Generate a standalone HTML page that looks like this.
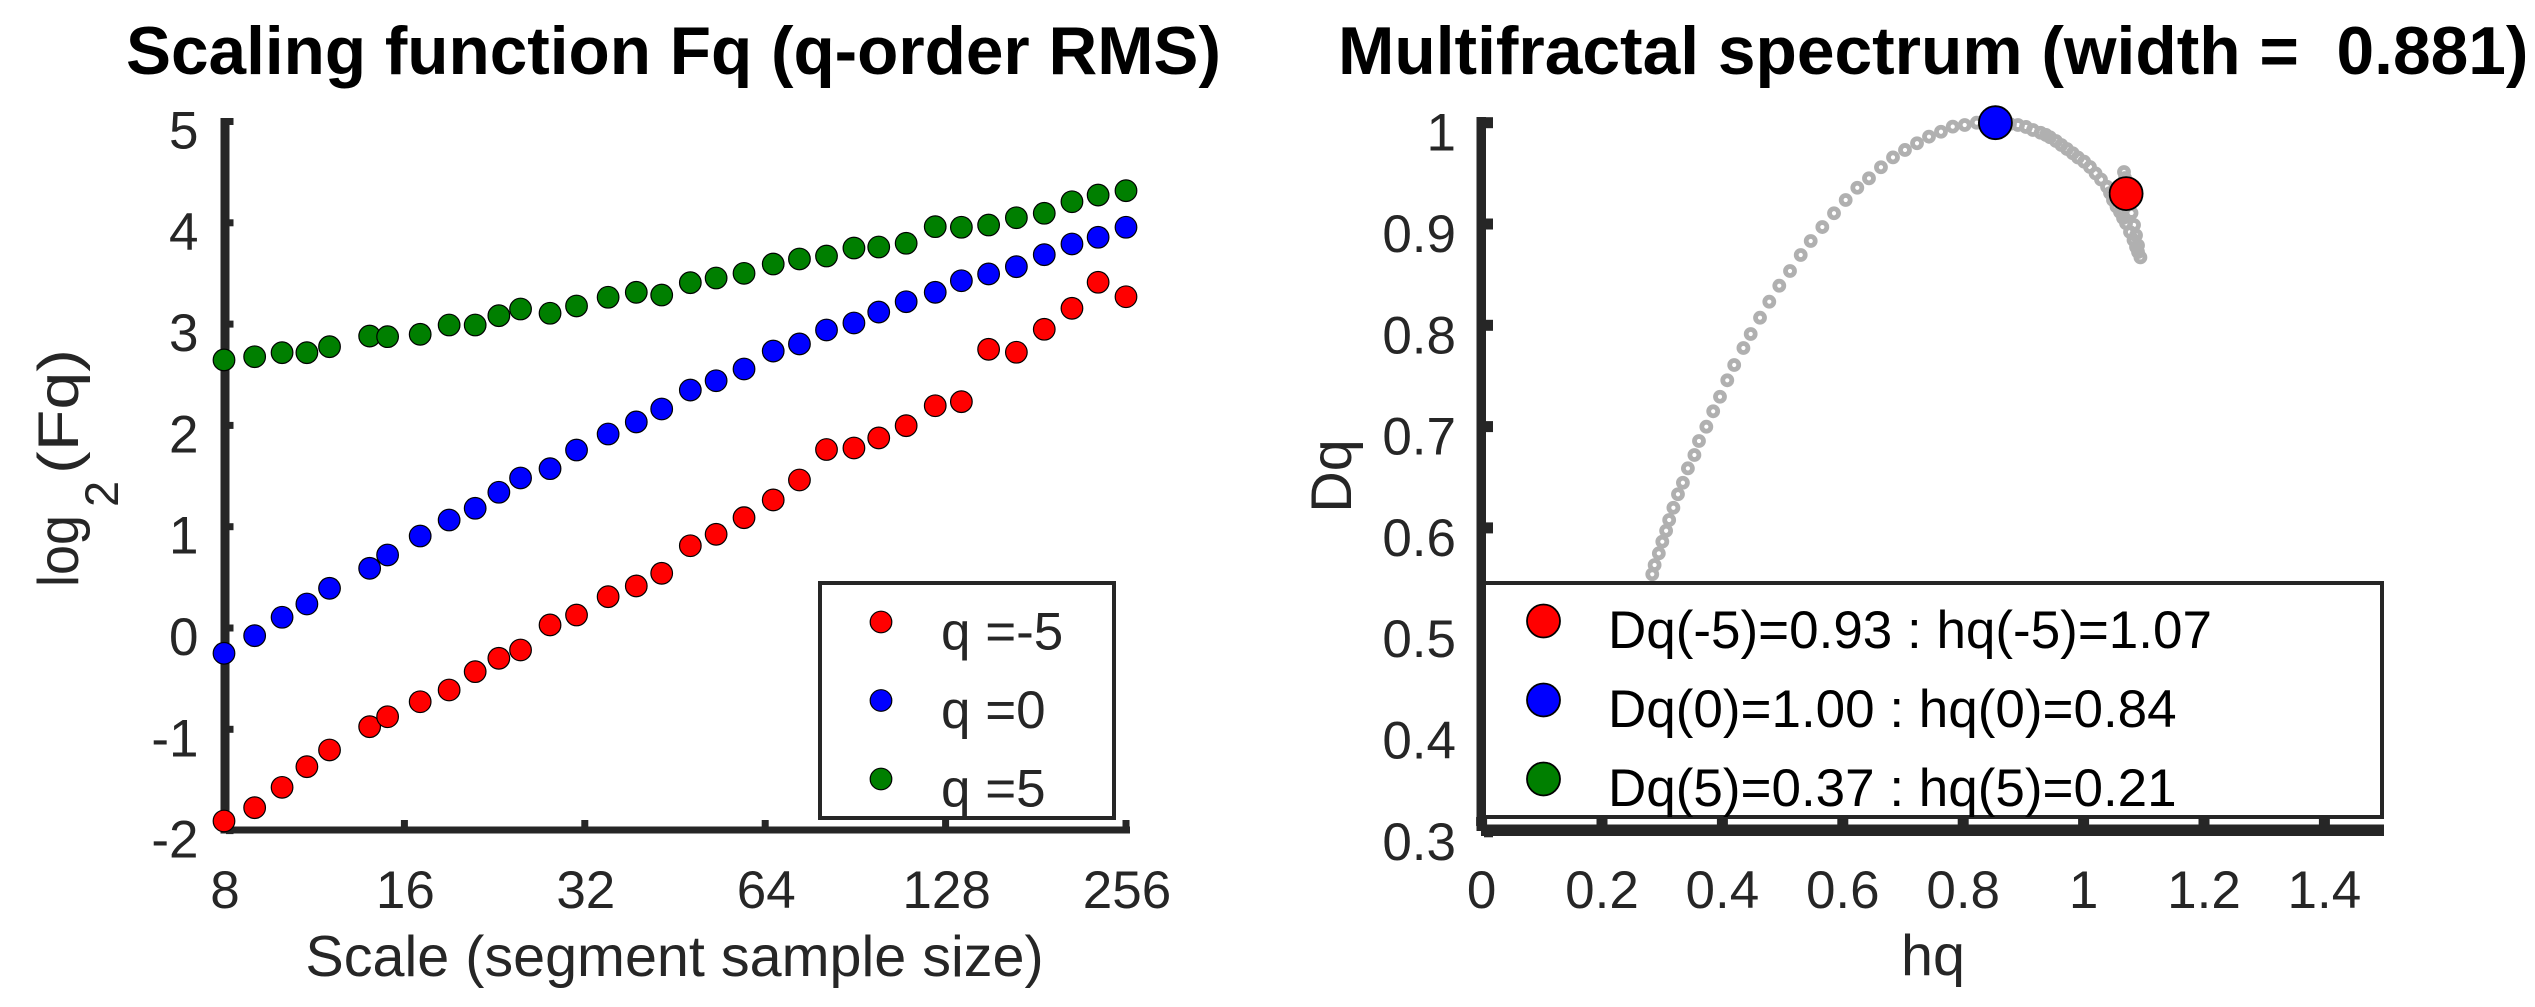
<!DOCTYPE html>
<html>
<head>
<meta charset="utf-8">
<title>Multifractal analysis</title>
<style>
html,body{margin:0;padding:0;background:#fff;}
svg{display:block;}
text{font-family:"Liberation Sans",sans-serif;white-space:pre;}
</style>
</head>
<body>
<svg id="fig" xmlns="http://www.w3.org/2000/svg" width="2535" height="1007" viewBox="0 0 2535 1007"></svg>
<script>
// ---------- Left chart data ----------
const scales = [8,9,10,11,12,14,15,17,19,21,23,25,28,31,35,39,43,48,53,59,66,73,81,90,99,110,123,136,151,168,187,208,230,256];
const fqNeg5 = [-1.905,-1.774,-1.573,-1.369,-1.204,-0.974,-0.876,-0.728,-0.612,-0.431,-0.299,-0.217,0.030,0.128,0.309,0.415,0.540,0.812,0.925,1.089,1.264,1.461,1.762,1.777,1.876,1.997,2.194,2.234,2.751,2.722,2.949,3.156,3.413,3.270];
const fqZero = [-0.250,-0.076,0.106,0.237,0.392,0.589,0.721,0.908,1.066,1.182,1.340,1.481,1.573,1.757,1.915,2.034,2.162,2.349,2.441,2.557,2.734,2.804,2.942,3.011,3.119,3.221,3.314,3.428,3.495,3.567,3.685,3.791,3.857,3.956];
const fqPos5 = [2.646,2.678,2.718,2.718,2.777,2.882,2.876,2.899,2.991,2.991,3.083,3.149,3.107,3.179,3.265,3.314,3.287,3.409,3.455,3.501,3.593,3.643,3.672,3.751,3.761,3.798,3.962,3.956,3.978,4.050,4.094,4.208,4.274,4.317];
const leftYTicks = [-2,-1,0,1,2,3,4,5];
const leftXTicks = [8,16,32,64,128,256];
const leftLegendLabels = ["q =-5","q =0","q =5"];

// ---------- Right chart data ----------
const spectrumH = [0.2835,0.2874,0.2944,0.3002,0.3065,0.3116,0.3186,0.3262,0.3344,0.3427,0.3535,0.3611,0.3733,0.3847,0.3960,0.4081,0.4196,0.4349,0.4470,0.4625,0.4779,0.4945,0.5123,0.5301,0.5467,0.5660,0.5854,0.6048,0.6241,0.6435,0.6634,0.6834,0.7033,0.7233,0.7432,0.7631,0.7826,0.8025,0.8224,0.8413,0.8612,0.8777,0.8910,0.9043,0.9159,0.9286,0.9375,0.9442,0.9541,0.9631,0.9724,0.9820,0.9907,1.0010,1.0106,1.0199,1.0289,1.0389,1.0439,1.0488,1.0547,1.0605,1.0655,1.0705,1.0771,1.0829,1.0871,1.0904,1.0944,1.0904,1.0871,1.0838,1.0796,1.0754,1.0721,1.0688,1.0671];
const spectrumD = [0.5542,0.5634,0.5749,0.5864,0.5972,0.6078,0.6199,0.6332,0.6446,0.6588,0.6720,0.6858,0.6999,0.7151,0.7295,0.7457,0.7608,0.7776,0.7914,0.8075,0.8233,0.8391,0.8536,0.8694,0.8832,0.8970,0.9106,0.9237,0.9358,0.9451,0.9560,0.9658,0.9731,0.9797,0.9862,0.9911,0.9961,0.9977,1.0000,1.0000,0.9995,0.9987,0.9977,0.9958,0.9928,0.9901,0.9879,0.9856,0.9819,0.9780,0.9740,0.9698,0.9656,0.9615,0.9563,0.9500,0.9439,0.9368,0.9306,0.9237,0.9171,0.9118,0.9059,0.9007,0.8921,0.8842,0.8773,0.8723,0.8671,0.8789,0.8889,0.8990,0.9109,0.9237,0.9355,0.9454,0.9513];
const keyH = [1.0706,0.8535,0.21];
const keyD = [0.93,1.00,0.37];
const keyColors = ["#ff0000","#0000ff","#007f00"];
const rightYTicks = [0.3,0.4,0.5,0.6,0.7,0.8,0.9,1];
const rightXTicks = [0,0.2,0.4,0.6,0.8,1,1.2,1.4];
const rightLegendLabels = ["Dq(-5)=0.93 : hq(-5)=1.07","Dq(0)=1.00 : hq(0)=0.84","Dq(5)=0.37 : hq(5)=0.21"];

// ---------- Axis functions ----------
const lx = s => 224 + 180.4 * Math.log2(s / 8);
const ly = v => 628 - 101.3 * v;
const rx = h => 1481.6 + 602 * h;
const ry = d => 122.7 + 1013 * (1 - d);

const NS = "http://www.w3.org/2000/svg";
const fig = document.getElementById("fig");
const AX = "#262626";
function mk(tag, attrs, parent) {
  const e = document.createElementNS(NS, tag);
  for (const k in attrs) e.setAttribute(k, attrs[k]);
  (parent || fig).appendChild(e);
  return e;
}
function label(str, attrs, parent) {
  const e = mk("text", attrs, parent);
  e.textContent = str;
  return e;
}
let el;

// ---------- Titles ----------
el = label("Scaling function Fq (q-order RMS)", {x:126, y:74, "font-size":67.5, "font-weight":"bold", fill:"#000"});


el = label("Multifractal spectrum (width =  0.881)", {x:1338, y:74, "font-size":67.7, "font-weight":"bold", fill:"#000"});



// ---------- Left axes ----------
el = mk("rect", {x:220.5, y:118, width:9, height:715.5, fill:AX});


el = mk("rect", {x:220.5, y:826.5, width:909.5, height:7, fill:AX});


leftYTicks.forEach(v => {
  const t = mk("rect", {x:226, y:ly(v) - 3.5, width:7.5, height:7, fill:AX});
  
  
  const l = label(String(v), {x:198.5, y:ly(v) + 27, "font-size":53, "text-anchor":"end", fill:AX});
  
  
});
leftXTicks.forEach(s => {
  const t = mk("rect", {x:lx(s) - 3.5, y:820, width:7, height:10, fill:AX});
  
  
  const l = label(String(s), {x:lx(s) + 1, y:908, "font-size":53, "text-anchor":"middle", fill:AX});
  
  
});
el = label("Scale (segment sample size)", {x:674.5, y:976, "font-size":57.5, "text-anchor":"middle", fill:AX});


el = label("log", {x:0, y:0, "font-size":57.5, fill:AX, textLength:72, lengthAdjust:"spacingAndGlyphs", transform:"translate(78 587) rotate(-90)"});


el = label("2", {x:0, y:0, "font-size":47, fill:AX, transform:"translate(118 507) rotate(-90)"});


el = label("(Fq)", {x:0, y:0, "font-size":57.5, fill:AX, textLength:125, lengthAdjust:"spacingAndGlyphs", transform:"translate(78 474) rotate(-90)"});



// ---------- Left series ----------
function drawSeries(values, color, name) {
  const g = mk("g", {});
  
  
  values.forEach((v, i) => {
    const c = mk("circle", {cx:lx(scales[i]), cy:ly(v), r:10.8, fill:color, stroke:"#000", "stroke-width":1.2}, g);
    
    
  });
}
drawSeries(fqNeg5, "#ff0000", "series-q-minus-5");
drawSeries(fqZero, "#0000ff", "series-q-0");
drawSeries(fqPos5, "#007f00", "series-q-5");

// ---------- Left legend ----------
el = mk("rect", {x:820, y:583, width:294, height:235, fill:"#fff", stroke:AX, "stroke-width":4});


leftLegendLabels.forEach((s, i) => {
  const yy = 622 + i * 78.5;
  const c = mk("circle", {cx:881, cy:yy, r:10.8, fill:keyColors[i], stroke:"#000", "stroke-width":1.2});
  
  
  const l = label(s, {x:941, y:yy + 27.5, "font-size":53, fill:AX});
  
  
});

// ---------- Right axes ----------
el = mk("rect", {x:1476.5, y:117, width:9.5, height:714, fill:AX});


el = mk("rect", {x:1481, y:824.5, width:903, height:11.5, fill:AX});


rightYTicks.forEach(v => {
  const t = mk("rect", {x:1484, y:ry(v) - 5.5, width:9, height:11, fill:AX});
  
  
  const l = label(String(v), {x:1456, y:ry(v) + 28, "font-size":53, "text-anchor":"end", fill:AX});
  
  
});
rightXTicks.forEach(h => {
  const t = mk("rect", {x:rx(h) - 5.5, y:817, width:11, height:9, fill:AX});
  
  
  const l = label(String(h), {x:rx(h), y:908, "font-size":53, "text-anchor":"middle", fill:AX});
  
  
});
el = label("hq", {x:1933, y:975, "font-size":57.5, "text-anchor":"middle", fill:AX});


el = label("Dq", {x:0, y:0, "font-size":57.5, "text-anchor":"middle", fill:AX, transform:"translate(1351 476) rotate(-90)"});



// ---------- Right series ----------
const specGroup = mk("g", {});


spectrumH.forEach((h, i) => {
  const c = mk("circle", {cx:rx(h), cy:ry(spectrumD[i]), r:4.5, fill:"none", stroke:"#b0b0b0", "stroke-width":4.8}, specGroup);
  
  
});
keyH.forEach((h, i) => {
  const c = mk("circle", {cx:rx(h), cy:ry(keyD[i]), r:16.5, fill:keyColors[i], stroke:"#000", "stroke-width":1.8});
  
  
});

// ---------- Right legend ----------
el = mk("rect", {x:1484, y:583, width:898, height:234, fill:"#fff", stroke:AX, "stroke-width":4});


rightLegendLabels.forEach((s, i) => {
  const yy = 621 + i * 79;
  const c = mk("circle", {cx:1543.5, cy:yy, r:16.5, fill:keyColors[i], stroke:"#000", "stroke-width":1.8});
  
  
  const l = label(s, {x:1608, y:yy + 27, "font-size":53, fill:"#000"});
  
  
});
</script>
</body>
</html>
